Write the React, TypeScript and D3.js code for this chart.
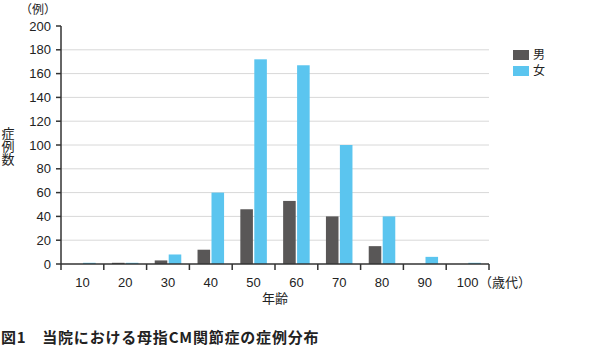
import React from "react";
import * as d3 from "d3";

const ages = ["10", "20", "30", "40", "50", "60", "70", "80", "90", "100"];
const male = [0, 1, 3, 12, 46, 53, 40, 15, 0, 0];
const female = [1, 1, 8, 60, 172, 167, 100, 40, 6, 1];
const yTicks = [0, 20, 40, 60, 80, 100, 120, 140, 160, 180, 200];
const seriesNames = ["男", "女"];
const colors = ["#595757", "#5bc5ef"];

const W = 595;
const H = 352;
const margin = { left: 61, right: 106, top: 26, bottom: 88 };
const jp = "'Noto Sans CJK JP', sans-serif";
const num = "'Liberation Sans', Arial, sans-serif";

export default function App() {
  const x = d3
    .scaleBand<string>()
    .domain(ages)
    .range([margin.left, W - margin.right]);
  const y = d3
    .scaleLinear()
    .domain([0, 200])
    .range([H - margin.bottom, margin.top]);

  const bw = x.bandwidth();
  const inner = d3
    .scaleBand<number>()
    .domain([0, 1])
    .range([bw * 0.19, bw * 0.81])
    .paddingInner(0.1);

  const y0 = y(0);

  return (
    <svg
      width={W}
      height={H}
      style={{ position: "absolute", left: 0, top: 0, background: "#fff" }}
      fontFamily={jp}
    >
      {/* grid */}
      {yTicks
        .filter((t) => t > 0 && t < 200)
        .map((t) => (
          <line
            key={"g" + t}
            x1={margin.left}
            x2={W - margin.right}
            y1={y(t)}
            y2={y(t)}
            stroke="#d8d8d8"
            strokeWidth={1}
          />
        ))}

      {/* bars */}
      {ages.map((a, i) =>
        [male[i], female[i]].map((v, s) => (
          <rect
            key={a + "-" + s}
            x={(x(a) as number) + (inner(s) as number)}
            width={inner.bandwidth()}
            y={y(v)}
            height={y0 - y(v)}
            fill={colors[s]}
          />
        ))
      )}

      {/* y axis */}
      <line
        x1={margin.left}
        x2={margin.left}
        y1={y(200)}
        y2={y0}
        stroke="#333"
        strokeWidth={1.5}
      />
      {yTicks.map((t) => (
        <g key={"y" + t}>
          <line
            x1={margin.left - 5}
            x2={margin.left}
            y1={y(t)}
            y2={y(t)}
            stroke="#333"
            strokeWidth={1.5}
          />
          <text
            x={margin.left - 10}
            y={y(t)}
            dy="0.35em"
            textAnchor="end"
            fontSize={13}
            fontFamily={num}
            fill="#222"
          >
            {t}
          </text>
        </g>
      ))}

      {/* x axis */}
      <line
        x1={margin.left}
        x2={W - margin.right}
        y1={y0}
        y2={y0}
        stroke="#333"
        strokeWidth={1.5}
      />
      {d3.range(ages.length + 1).map((i) => (
        <line
          key={"xt" + i}
          x1={margin.left + i * bw}
          x2={margin.left + i * bw}
          y1={y0}
          y2={y0 + 6}
          stroke="#333"
          strokeWidth={1.5}
        />
      ))}
      {ages.map((a) => (
        <text
          key={"xl" + a}
          x={(x(a) as number) + bw / 2}
          y={y0 + 23}
          textAnchor="middle"
          fontSize={13}
          fontFamily={num}
          fill="#222"
        >
          {a}
        </text>
      ))}
      <text x={W - margin.right - 10} y={y0 + 23} fontSize={13} fill="#222">
        （歳代）
      </text>
      <text
        x={x("60") as number}
        y={y0 + 39}
        textAnchor="middle"
        fontSize={13}
        fill="#222"
      >
        年齢
      </text>

      {/* y label */}
      <text x={38} y={14} textAnchor="middle" fontSize={12} fill="#222">
        （例）
      </text>
      <text
        x={8}
        y={127}
        fontSize={13}
        fill="#222"
        style={{ writingMode: "vertical-rl" }}
        textAnchor="start"
      >
        症例数
      </text>

      {/* legend */}
      {seriesNames.map((n, i) => (
        <g key={n} transform={`translate(513, ${50 + i * 16})`}>
          <rect width={16} height={10} fill={colors[i]} />
          <text x={20} y={5} dy="0.35em" fontSize={12} fill="#222">
            {n}
          </text>
        </g>
      ))}

      {/* caption */}
      <text
        x={1}
        y={343}
        fontSize={15}
        fontWeight="bold"
        letterSpacing={0.8}
        fill="#222"
      >
        図1　当院における母指CM関節症の症例分布
      </text>
    </svg>
  );
}
